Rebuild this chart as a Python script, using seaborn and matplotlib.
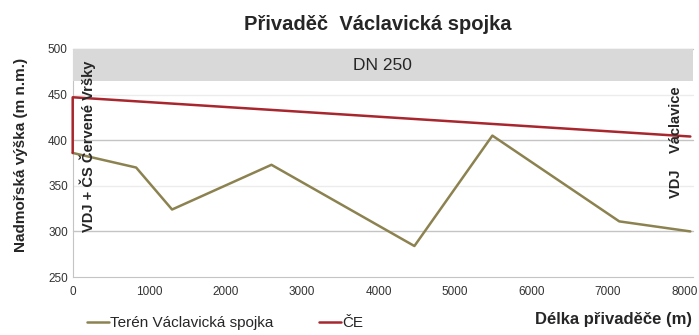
#!/usr/bin/env python3

import matplotlib
matplotlib.use("Agg")
import matplotlib.pyplot as plt
import seaborn as sns
import pandas as pd

# data
dist = [0, 830, 1300, 2600, 4470, 5490, 7150, 8080]
teren = [386, 370, 324, 373, 284, 405, 311, 300]
ce_dist = [0, 0, 8080]
ce = [386, 447, 404]
y_ticks = [250, 300, 350, 400, 450, 500]
x_ticks = [0, 1000, 2000, 3000, 4000, 5000, 6000, 7000, 8000]


def main():
    sns.set_style("white")
    plt.rcParams["font.family"] = ["Liberation Sans", "DejaVu Sans"]

    fig, ax = plt.subplots(figsize=(6.99, 3.35), dpi=100)
    fig.subplots_adjust(left=0.104, right=0.992, top=0.854, bottom=0.173)

    df_t = pd.DataFrame({"x": dist, "y": teren})
    df_c = pd.DataFrame({"x": ce_dist, "y": ce})

    # grid lines
    for v in y_ticks[1:]:
        major = v % 100 == 0
        ax.axhline(v, color="#c4c4c4" if major else "#ececec", lw=1.0, zorder=0)

    sns.lineplot(data=df_t, x="x", y="y", color="#8c8250", lw=1.8, ax=ax, zorder=3,
                 sort=False, estimator=None, label="Terén Václavická spojka", legend=False)
    sns.lineplot(data=df_c, x="x", y="y", color="#a8262e", lw=1.8, ax=ax, zorder=3,
                 sort=False, estimator=None, label="ČE", legend=False)
    for ln in ax.lines:
        ln.set_clip_on(False)

    # DN band
    ax.axhspan(465, 500, color="#d9d9d9", zorder=3, lw=0)
    ax.text(4050, 482, "DN 250", ha="center", va="center", fontsize=12.5, zorder=4)

    ax.set_xlim(0, 8120)
    ax.set_ylim(250, 500)
    ax.set_xticks(x_ticks)
    ax.set_yticks(y_ticks)
    ax.tick_params(axis="both", labelsize=8.5, colors="#333333", length=3, width=0.8)
    ax.tick_params(axis="y", length=0)

    for s in ["top", "right"]:
        ax.spines[s].set_visible(False)
    ax.spines["left"].set_color("#c4c4c4")
    ax.spines["bottom"].set_color("#c4c4c4")

    ax.set_xlabel("")
    ax.set_ylabel("Nadmořská výška (m n.m.)", fontsize=11, fontweight="bold")
    ax.yaxis.set_label_coords(-0.072, 0.535)
    fig.text(0.99, 0.045, "Délka přivaděče (m)", ha="right", va="center",
             fontsize=12, fontweight="bold")

    ax.text(200, 393, "VDJ + ČS Červené Vršky", rotation=90, ha="center", va="center",
            fontsize=10.5, fontweight="bold", zorder=5)
    ax.text(7890, 398, "VDJ    Václavice", rotation=90, ha="center", va="center",
            fontsize=10.5, fontweight="bold", zorder=5)

    fig.suptitle("Přivaděč  Václavická spojka", x=0.54, y=0.955, fontsize=14.5,
                 fontweight="bold")

    handles, labels = ax.get_legend_handles_labels()
    fig.legend(handles, labels, loc="center left", bbox_to_anchor=(0.105, 0.035),
               ncol=2, frameon=False, fontsize=11, handlelength=1.4,
               handletextpad=0.1, columnspacing=3.0)

    fig.savefig("out.png", dpi=100)


if __name__ == "__main__":
    main()
